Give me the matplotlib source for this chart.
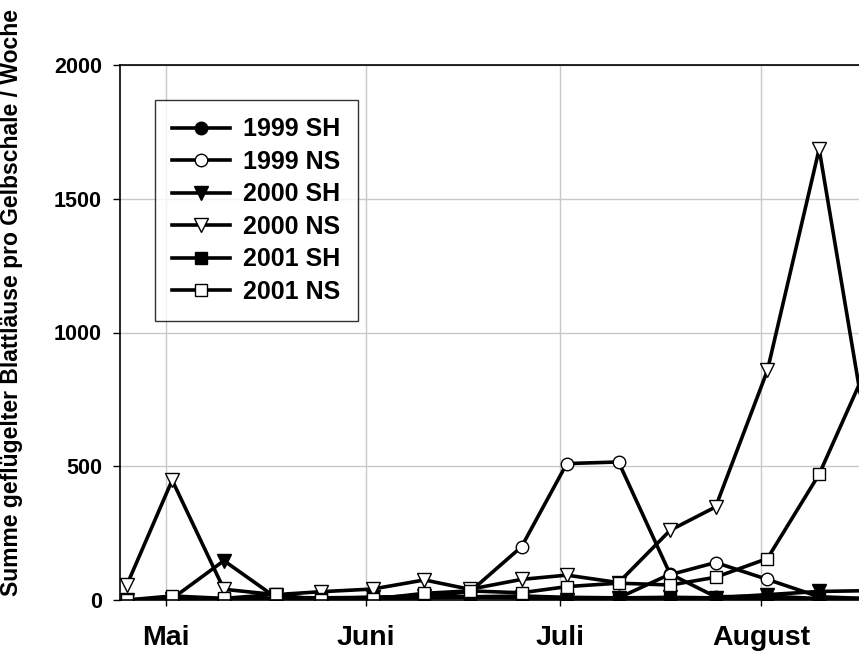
import numpy as np
import matplotlib
matplotlib.use("Agg")
import matplotlib.pyplot as plt

plt.rcParams['font.family'] = ['Liberation Sans', 'DejaVu Sans']
plt.rcParams['font.weight'] = 'bold'

# sampling dates as days after 1 May
days = [-6, 1, 9, 17, 24, 32, 40, 47, 55, 62, 70, 78, 85, 93, 101, 109]

sh_1999 = [0, 3, 5, 5, 5, 8, 10, 12, 15, 10, 8, 97, 12, 15, 5, 5]
ns_1999 = [0, 5, 5, 5, 5, 10, 15, 30, 199, 510, 516, 95, 140, 77, 12, 5]
sh_2000 = [0, 5, 147, 10, 8, 10, 15, 10, 12, 0, 8, 10, 8, 20, 32, 35]
ns_2000 = [56, 448, 40, 20, 31, 41, 75, 40, 77, 93, 65, 261, 348, 858, 1686, 533]
sh_2001 = [0, 0, 2, 3, 3, 5, 8, 10, 8, 5, 5, 5, 5, 5, 5, 5]
ns_2001 = [0, 15, 6, 21, 0, 3, 25, 34, 27, 50, 63, 56, 85, 155, 470, 904]

month_days = [0, 31, 61, 92]
month_names = ['Mai', 'Juni', 'Juli', 'August']

fig = plt.figure(figsize=(8.59, 6.57), dpi=100)
ax = fig.add_axes([120 / 859, 1 - 600 / 657, 739 / 859, 535 / 657])

series = [
    (sh_1999, '1999 SH', 'o', 'black', 9),
    (ns_1999, '1999 NS', 'o', 'white', 9),
    (sh_2000, '2000 SH', 'v', 'black', 10),
    (ns_2000, '2000 NS', 'v', 'white', 10),
    (sh_2001, '2001 SH', 's', 'black', 8),
    (ns_2001, '2001 NS', 's', 'white', 8),
]
for vals, lab, mk, fc, ms in series:
    ax.plot(days, vals, color='black', lw=2.6, marker=mk, markersize=ms,
            markerfacecolor=fc, markeredgecolor='black', markeredgewidth=1.0,
            label=lab)

ax.set_xlim(-7.06, 107.16)
ax.set_ylim(0, 2000)
ax.set_yticks([0, 500, 1000, 1500, 2000])
ax.set_xticks(month_days)
ax.set_xticklabels(month_names, fontsize=20.5, fontweight='bold')
ax.tick_params(axis='y', labelsize=15.5, direction='out', length=5, width=1, pad=8)
ax.tick_params(axis='x', direction='out', length=4, width=1, pad=14)
for t in ax.get_yticklabels():
    t.set_fontweight('bold')

ax.grid(True, color='#c8c8c8', lw=1)
ax.set_axisbelow(True)
ax.spines['right'].set_visible(False)
for s in ['left', 'top', 'bottom']:
    ax.spines[s].set_linewidth(1.2)

ax.set_ylabel('Summe geflügelter Blattläuse pro Gelbschale / Woche',
              fontsize=16.5, fontweight='bold')
ax.yaxis.set_label_coords(-0.131, 0.557)

leg = ax.legend(loc='upper left', bbox_to_anchor=(0.047, 0.935),
                borderaxespad=0, fontsize=18, frameon=True, fancybox=False,
                edgecolor='black', handlelength=2.3, handletextpad=0.55,
                labelspacing=0.34, borderpad=0.7)
leg.get_frame().set_linewidth(1.0)
for t in leg.get_texts():
    t.set_fontweight('bold')

fig.savefig('out.png', dpi=100)
